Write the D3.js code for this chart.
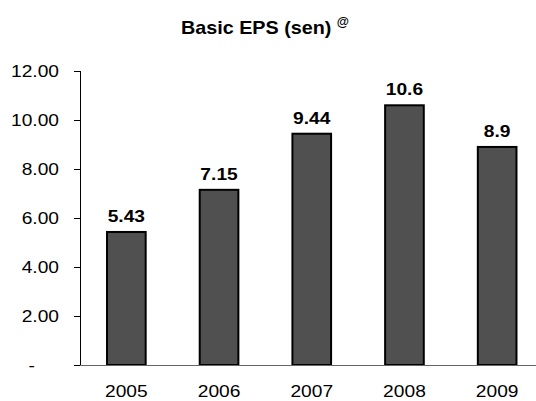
<!DOCTYPE html>
<html>
<head>
<meta charset="utf-8">
<script src="https://cdn.jsdelivr.net/npm/d3@7"></script>
<style>
  html, body { margin: 0; padding: 0; background: #fff; }
  svg { display: block; font-family: "Liberation Sans", Arial, Helvetica, sans-serif; }
</style>
</head>
<body>
<svg id="chart" width="536" height="401"></svg>
<script>
// Basic EPS (sen) by financial year
const years = ["2005", "2006", "2007", "2008", "2009"];
const eps = [5.43, 7.15, 9.44, 10.6, 8.9];
const epsLabels = ["5.43", "7.15", "9.44", "10.6", "8.9"];
const yTicks = [0, 2, 4, 6, 8, 10, 12];
const yTickLabels = ["-", "2.00", "4.00", "6.00", "8.00", "10.00", "12.00"];

const svg = d3.select("#chart");
const stretch = 1.13; // text is slightly wider than tall

const x = d3.scaleBand()
  .domain(years)
  .range([80, 543.5])
  .paddingInner(0.583)
  .paddingOuter(0.2915);

const y = d3.scaleLinear()
  .domain([0, 12])
  .range([365, 71]);

// title with superscript marker
const title = svg.append("text")
  .attr("transform", "translate(265,33.5) scale(1.04,1)")
  .attr("text-anchor", "middle")
  .attr("font-size", 19)
  .attr("font-weight", "bold")
  .attr("fill", "#000");
title.append("tspan").text("Basic EPS (sen) ");
title.append("tspan")
  .attr("font-size", 12)
  .attr("dy", -8)
  .text("@");

// bars
svg.append("g")
  .selectAll("rect")
  .data(years)
  .join("rect")
  .attr("x", d => x(d))
  .attr("y", (d, i) => y(eps[i]))
  .attr("width", x.bandwidth())
  .attr("height", (d, i) => y(0) - y(eps[i]))
  .attr("fill", "#505050")
  .attr("stroke", "#000")
  .attr("stroke-width", 2);

// value labels
svg.append("g")
  .selectAll("text")
  .data(years)
  .join("text")
  .attr("transform", (d, i) =>
    `translate(${x(d) + x.bandwidth() / 2},${y(eps[i]) - 10}) scale(${stretch},1)`)
  .attr("text-anchor", "middle")
  .attr("font-size", 17)
  .attr("font-weight", "bold")
  .attr("fill", "#000")
  .text((d, i) => epsLabels[i]);

// x axis baseline
const xAxis = svg.append("g")
  .attr("transform", `translate(0,${y(0)})`)
  .call(d3.axisBottom(x).tickSize(0).tickPadding(0).tickFormat(""));
xAxis.select(".domain")
  .attr("d", "M74,0.5H536")
  .attr("stroke", "#666");

// year labels
svg.append("g")
  .selectAll("text")
  .data(years)
  .join("text")
  .attr("transform", d => `translate(${x(d) + x.bandwidth() / 2},396.5) scale(${stretch},1)`)
  .attr("text-anchor", "middle")
  .attr("font-size", 17)
  .attr("fill", "#000")
  .text(d => d);

// y axis
const yAxis = svg.append("g")
  .attr("transform", "translate(80,0)")
  .call(d3.axisLeft(y)
    .tickValues(yTicks)
    .tickSize(6)
    .tickPadding(15)
    .tickFormat((d, i) => yTickLabels[i]));
yAxis.select(".domain").attr("stroke", "#000").attr("d", "M0.5,71V365");
yAxis.selectAll(".tick line").attr("stroke", "#000");
yAxis.selectAll(".tick text")
  .attr("x", null)
  .attr("font-size", 17)
  .attr("font-family", "Liberation Sans, Arial, sans-serif")
  .attr("fill", "#000")
  .attr("transform", d => d === 0
    ? `translate(-45,0) scale(${stretch},1)`
    : `translate(-21,0) scale(${stretch},1)`);
</script>
</body>
</html>
